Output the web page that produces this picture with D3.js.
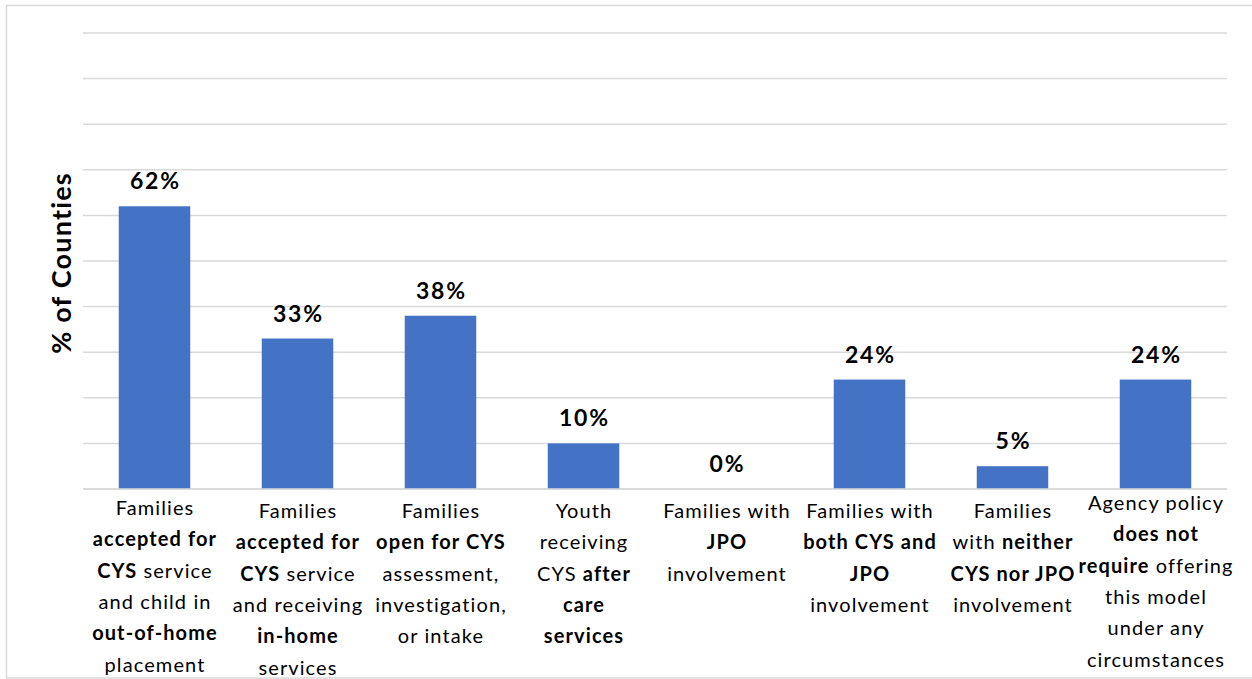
<!DOCTYPE html>
<html><head><meta charset="utf-8">
<script src="https://cdn.jsdelivr.net/npm/d3@7"></script>
<style>body{margin:0;background:#fff;} svg{display:block;}</style>
</head><body>
<svg id="chart" width="1252" height="679"></svg>
<script>
// Data
const categories = [
  ["Families", "**accepted for**", "**CYS** service", "and child in", "**out-of-home**", "placement"],
  ["Families", "**accepted for**", "**CYS** service", "and receiving", "**in-home**", "services"],
  ["Families", "**open for CYS**", "assessment,", "investigation,", "or intake"],
  ["Youth", "receiving", "CYS **after**", "**care**", "**services**"],
  ["Families with", "**JPO**", "involvement"],
  ["Families with", "**both CYS and**", "**JPO**", "involvement"],
  ["Families", "with **neither**", "**CYS nor JPO**", "involvement"],
  ["Agency policy", "**does not**", "**require** offering", "this model", "under any", "circumstances"]
];
const values = [62, 33, 38, 10, 0, 24, 5, 24];
const yTicks = [0,10,20,30,40,50,60,70,80,90,100];
const yTitle = "% of Counties";

(function(){
const svg = d3.select("#chart");
const font = "Lato, 'Open Sans', sans-serif";

// outer border
svg.append("rect").attr("x",6.5).attr("y",5.5).attr("width",1260).attr("height",672.5)
  .attr("fill","none").attr("stroke","#d9d9d9").attr("stroke-width",1.5);

const mL = 83, mR = 1227, mT = 33, mB = 489;
const x = d3.scaleBand().domain(d3.range(categories.length)).range([mL, mR]).paddingInner(0.5).paddingOuter(0.25);
const y = d3.scaleLinear().domain([0,100]).range([mB, mT]);

// gridlines
svg.append("g").selectAll("line").data(yTicks).join("line")
  .attr("x1", mL).attr("x2", mR)
  .attr("y1", d=>y(d)).attr("y2", d=>y(d))
  .attr("stroke","#d9d9d9").attr("stroke-width",1.5);

// bars
svg.append("g").selectAll("rect").data(values).join("rect")
  .attr("x",(d,i)=>x(i)).attr("width",x.bandwidth())
  .attr("y",d=>y(d)).attr("height",d=>y(0)-y(d))
  .attr("fill","#4472C4");

// baseline
svg.append("line").attr("x1",mL).attr("x2",mR).attr("y1",y(0)).attr("y2",y(0))
  .attr("stroke","#d9d9d9").attr("stroke-width",1.5);

// value labels
svg.append("g").selectAll("text").data(values).join("text")
  .attr("x",(d,i)=>x(i)+x.bandwidth()/2 + 0.9)
  .attr("y",d=>y(d)-17)
  .attr("text-anchor","middle")
  .attr("font-family",font).attr("font-weight","bold").attr("font-size",23)
  .attr("letter-spacing",1.8)
  .attr("fill","#000")
  .text(d=>d+"%");

// category labels
const lineH = 31.3;
const cg = svg.append("g");
categories.forEach((lines,i)=>{
  const cx = x(i)+x.bandwidth()/2 + 0.5;
  const startY = (i===7) ? 510 : (i===0 ? 515 : 518);
  lines.forEach((ln,j)=>{
    const t = cg.append("text")
      .attr("x",cx).attr("y",startY + j*lineH)
      .attr("text-anchor","middle")
      .attr("font-family",font).attr("font-size",20)
      .attr("letter-spacing",1.1).attr("fill","#000");
    const parts = ln.split("**");
    parts.forEach((p,k)=>{
      if(!p) return;
      t.append("tspan").attr("font-weight", k%2===1 ? "bold" : "normal").text(p);
    });
  });
});

// y-axis title
svg.append("text")
  .attr("transform",`translate(71,${(mT+mB)/2+2}) rotate(-90)`)
  .attr("text-anchor","middle")
  .attr("font-family",font).attr("font-weight","bold").attr("font-size",27)
  .attr("letter-spacing",1.2)
  .attr("fill","#000")
  .text(yTitle);
})();
</script>
</body></html>
